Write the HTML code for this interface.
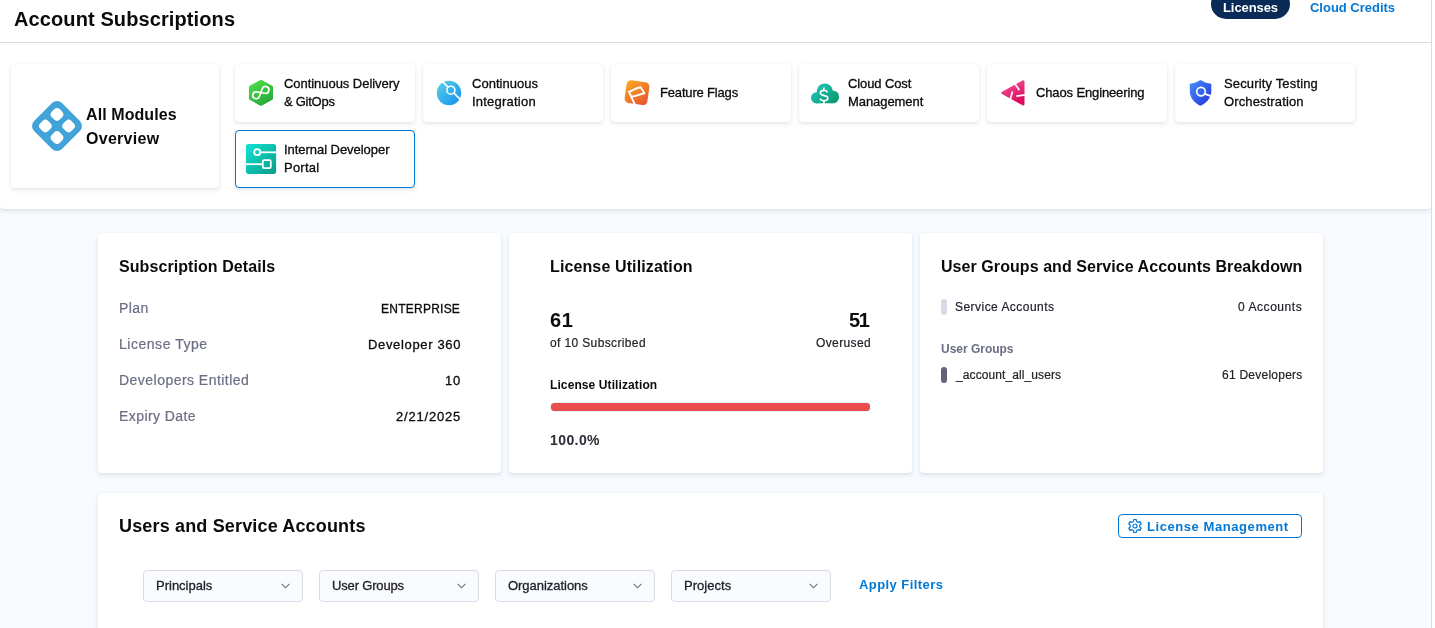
<!DOCTYPE html>
<html><head><meta charset="utf-8">
<style>
*{box-sizing:border-box;margin:0;padding:0}
html,body{width:1435px;height:628px;overflow:hidden}
body{background:#f7fbff;font-family:"Liberation Sans",sans-serif;position:relative;color:#22222a}
.t{position:absolute;white-space:nowrap;will-change:transform}
.a{position:absolute}
#top{position:absolute;left:0;top:0;width:1431px;height:209px;background:#fff;border-radius:0 0 4px 4px;box-shadow:0 0 1px rgba(40,41,61,.08),0 2px 4px rgba(96,97,112,.16)}
#vline{position:absolute;left:1431px;top:0;width:1px;height:628px;background:#d9dae5}
#rstrip{position:absolute;left:1432px;top:0;width:3px;height:628px;background:#fff}
#hline{position:absolute;left:0;top:42px;width:1431px;height:1px;background:#d9dae5}
.mc{position:absolute;width:180px;height:58px;background:#fff;border-radius:4px;box-shadow:0 0 1px rgba(40,41,61,.08),0 2px 4px rgba(96,97,112,.16)}
.mc.sel{border:1px solid #0278d5}
.card{position:absolute;background:#fff;border-radius:4px;box-shadow:0 0 1px rgba(40,41,61,.08),0 2px 4px rgba(96,97,112,.16)}
.dd{position:absolute;top:570px;width:160px;height:32px;border:1px solid #d9dae5;border-radius:4px;background:#f9fbff}
.dd svg{position:absolute;left:137.2px;top:12px}
.pill{position:absolute;width:6px;border-radius:3px}
</style></head><body>
<div id="top"></div>
<div id="hline"></div>
<div id="vline"></div>
<div id="rstrip"></div>

<div class="a" style="left:1211px;top:-11px;width:79px;height:30px;border-radius:15px;background:#0a2b57"></div>

<!-- all modules card -->
<div class="card" style="left:11px;top:64px;width:208px;height:124px"></div>
<svg class="a" style="left:30.9px;top:99.8px" width="52" height="52" viewBox="-26 -26 52 52">
  <g transform="rotate(45)" fill="#42a3d8" fill-rule="evenodd"><path d="M-12.70,-19.70 H12.70 A7,7 0 0 1 19.70,-12.70 V12.70 A7,7 0 0 1 12.70,19.70 H-12.70 A7,7 0 0 1 -19.70,12.70 V-12.70 A7,7 0 0 1 -12.70,-19.70 Z M-9.80,-13.80 H-6.60 A4,4 0 0 1 -2.60,-9.80 V-6.60 A4,4 0 0 1 -6.60,-2.60 H-9.80 A4,4 0 0 1 -13.80,-6.60 V-9.80 A4,4 0 0 1 -9.80,-13.80 Z M6.60,-13.80 H9.80 A4,4 0 0 1 13.80,-9.80 V-6.60 A4,4 0 0 1 9.80,-2.60 H6.60 A4,4 0 0 1 2.60,-6.60 V-9.80 A4,4 0 0 1 6.60,-13.80 Z M-9.80,2.60 H-6.60 A4,4 0 0 1 -2.60,6.60 V9.80 A4,4 0 0 1 -6.60,13.80 H-9.80 A4,4 0 0 1 -13.80,9.80 V6.60 A4,4 0 0 1 -9.80,2.60 Z M6.60,2.60 H9.80 A4,4 0 0 1 13.80,6.60 V9.80 A4,4 0 0 1 9.80,13.80 H6.60 A4,4 0 0 1 2.60,9.80 V6.60 A4,4 0 0 1 6.60,2.60 Z"/></g>
</svg>

<!-- module cards -->
<div class="mc" style="left:235px;top:64px"></div>
<div class="mc" style="left:423px;top:64px"></div>
<div class="mc" style="left:611px;top:64px"></div>
<div class="mc" style="left:799px;top:64px"></div>
<div class="mc" style="left:987px;top:64px"></div>
<div class="mc" style="left:1175px;top:64px"></div>
<div class="mc sel" style="left:235px;top:130px"></div>

<!-- module icons (page coords) -->
<svg class="a" style="left:0;top:0" width="1435" height="210" viewBox="0 0 1435 210">
  <defs>
    <linearGradient id="gcd" x1="0" y1="0" x2="0.6" y2="1"><stop offset="0" stop-color="#4fdf4a"/><stop offset="1" stop-color="#29ad3a"/></linearGradient>
    <linearGradient id="gci" x1="0" y1="0" x2="1" y2="1"><stop offset="0" stop-color="#5bd3e6"/><stop offset="1" stop-color="#0f8fee"/></linearGradient>
    <linearGradient id="gff" x1="0" y1="0" x2="1" y2="1"><stop offset="0" stop-color="#fbab22"/><stop offset="1" stop-color="#e84f2f"/></linearGradient>
    <linearGradient id="gcc2" gradientUnits="userSpaceOnUse" x1="815" y1="84" x2="834" y2="104"><stop offset="0" stop-color="#1ec4bb"/><stop offset="1" stop-color="#0b9a6e"/></linearGradient>
    <linearGradient id="gch" x1="0" y1="0" x2="0.5" y2="1"><stop offset="0" stop-color="#f4579a"/><stop offset="1" stop-color="#de0b5c"/></linearGradient>
    <linearGradient id="gst" x1="0" y1="0" x2="1" y2="1"><stop offset="0" stop-color="#4a90f6"/><stop offset="1" stop-color="#2130e0"/></linearGradient>
    <linearGradient id="gidp" x1="0" y1="0" x2="1" y2="1"><stop offset="0" stop-color="#12e3d3"/><stop offset="1" stop-color="#089c88"/></linearGradient>
  </defs>
  <!-- CD hexagon -->
  <g transform="translate(261,92.8)">
    <polygon points="0,-11.6 10.6,-5.8 10.6,5.8 0,11.6 -10.6,5.8 -10.6,-5.8" fill="url(#gcd)" stroke="url(#gcd)" stroke-width="2.8" stroke-linejoin="round"/>
    <g transform="translate(-0.2,-0.2) rotate(-30)" fill="none" stroke="#fff" stroke-width="1.7">
      <path d="M3.19,-2.62 A3.4,3.4 0 1 1 3.19,2.62 L-3.19,-2.62 A3.4,3.4 0 1 0 -3.19,2.62 Z"/>
    </g>
  </g>
  <!-- CI -->
  <circle cx="449" cy="93" r="12.2" fill="url(#gci)"/>
  <line x1="440" y1="79.2" x2="462.5" y2="101.7" stroke="#fff" stroke-width="1.7"/>
  <circle cx="450.9" cy="90.2" r="4.0" fill="#33b4ea" stroke="#fff" stroke-width="1.6"/>
  <!-- FF -->
  <g transform="translate(637,92.7) rotate(8)">
    <rect x="-11.5" y="-11.5" width="23" height="23" rx="4.5" fill="url(#gff)"/>
  </g>
  <g fill="none" stroke="#fff" stroke-width="1.7" stroke-linejoin="round" stroke-linecap="round">
    <path stroke-width="1.9" d="M635.6,106 L628.9,91.7 C632.5,90.6 636.5,87.6 640.6,87.2 L644.5,93.3 C640.6,93.6 636.8,96.2 632.6,96.4"/>
  </g>
  <!-- CCM cloud -->
  <g fill="url(#gcc2)">
    <circle cx="816.6" cy="97.8" r="5.6"/>
    <circle cx="824.8" cy="91.6" r="8.1"/>
    <circle cx="832.7" cy="96.9" r="6.4"/>
    <rect x="816.6" y="94" width="16.1" height="9.3"/>
  </g>
  <g fill="none" stroke="#fff" stroke-width="1.6" stroke-linecap="butt">
    <path d="M827.6,92.4 C827,90.9 825.6,90.4 823.9,90.4 C821.6,90.4 820.3,91.5 820.3,93.1 C820.3,96.6 827.9,94.7 827.9,98.1 C827.9,99.7 826.3,100.7 823.9,100.7 C821.9,100.7 820.6,100 819.9,98.6"/>
    <path d="M823.9,87.4 V90.4 M823.9,100.7 V104.5"/>
  </g>
  <!-- Chaos -->
  <polygon points="1002.6,92.8 1023.2,81.6 1023.2,104.2" fill="url(#gch)" stroke="url(#gch)" stroke-width="2.6" stroke-linejoin="round"/>
  <g stroke="#fff" stroke-width="1.7" stroke-linecap="butt">
    <line x1="1012.5" y1="80.2" x2="1019.4" y2="90.2"/>
    <line x1="1016.3" y1="96.1" x2="1027" y2="94.6"/>
    <line x1="1012.5" y1="91.4" x2="1009.8" y2="101"/>
  </g>
  <!-- STO shield -->
  <path d="M1200.5,80 C1203.5,82 1207,83.3 1211.3,83.8 V91 C1211.3,98 1206.5,103 1200.5,105.8 C1194.5,103 1189.8,98 1189.8,91 V83.8 C1194,83.3 1197.5,82 1200.5,80 Z" fill="url(#gst)"/>
  <line x1="1204" y1="93.6" x2="1212.5" y2="96.6" stroke="#fff" stroke-width="1.8"/>
  <circle cx="1201" cy="91.6" r="4.3" fill="#3566ee" stroke="#fff" stroke-width="1.7"/>
  <!-- IDP -->
  <rect x="245.9" y="143.9" width="30.2" height="30" rx="2.6" fill="url(#gidp)"/>
  <g fill="none" stroke="#fff" stroke-width="1.8">
    <circle cx="257.2" cy="152.2" r="3.0"/>
    <line x1="260.2" y1="152.3" x2="276.1" y2="152.3"/>
    <rect x="262.8" y="160.2" width="8" height="8" rx="1.4"/>
    <line x1="245.9" y1="164.2" x2="262.8" y2="164.2"/>
  </g>
</svg>

<!-- stat cards -->
<div class="card" style="left:98px;top:233px;width:403px;height:240px"></div>
<div class="card" style="left:509px;top:233px;width:403px;height:240px"></div>
<div class="card" style="left:920px;top:233px;width:403px;height:240px"></div>
<div class="card" style="left:98px;top:493px;width:1225px;height:200px"></div>

<!-- progress bar -->
<div class="a" style="left:551px;top:403px;width:319px;height:8px;border-radius:3.5px;background:#eb4d4f;box-shadow:0 0 1px 0.5px #d6e6f6"></div>

<!-- pills -->
<div class="pill" style="left:941px;top:299.2px;height:15.6px;background:#d9dae5"></div>
<div class="pill" style="left:941px;top:367px;height:16px;background:#62647c"></div>

<!-- license management button -->
<div class="a" style="left:1118px;top:514px;width:184px;height:24px;border:1px solid #0278d5;border-radius:4px"></div>
<svg class="a" style="left:1127px;top:518px" width="16" height="16" viewBox="0 0 16 16">
  <g fill="none" stroke="#0278d5" stroke-width="1.2" stroke-linejoin="round">
    <path d="M6.57,3.31 L6.74,1.52 L9.26,1.52 L9.43,3.31 L11.34,4.42 L12.98,3.67 L14.24,5.85 L12.77,6.90 L12.77,9.10 L14.24,10.15 L12.98,12.33 L11.34,11.58 L9.43,12.69 L9.26,14.48 L6.74,14.48 L6.57,12.69 L4.66,11.58 L3.02,12.33 L1.76,10.15 L3.23,9.10 L3.23,6.90 L1.76,5.85 L3.02,3.67 L4.66,4.42 Z"/>
    <circle cx="8" cy="8" r="2.0"/>
  </g>
</svg>

<!-- dropdowns -->
<div class="dd" style="left:143px"><svg width="9" height="6" viewBox="0 0 9 6"><path d="M0.6,0.8 L4.5,4.8 L8.4,0.8" fill="none" stroke="#6b6d85" stroke-width="1.1"/></svg></div>
<div class="dd" style="left:319px"><svg width="9" height="6" viewBox="0 0 9 6"><path d="M0.6,0.8 L4.5,4.8 L8.4,0.8" fill="none" stroke="#6b6d85" stroke-width="1.1"/></svg></div>
<div class="dd" style="left:495px"><svg width="9" height="6" viewBox="0 0 9 6"><path d="M0.6,0.8 L4.5,4.8 L8.4,0.8" fill="none" stroke="#6b6d85" stroke-width="1.1"/></svg></div>
<div class="dd" style="left:671px"><svg width="9" height="6" viewBox="0 0 9 6"><path d="M0.6,0.8 L4.5,4.8 L8.4,0.8" fill="none" stroke="#6b6d85" stroke-width="1.1"/></svg></div>

<div class="t" style="left:13.80px;top:9.00px;font-size:20px;line-height:20px;color:#0b0b0d;font-weight:bold;letter-spacing:0.106px;">Account Subscriptions</div>
<div class="t" style="left:1222.83px;top:1.00px;font-size:13px;line-height:13px;color:#fff;font-weight:bold;letter-spacing:-0.079px;">Licenses</div>
<div class="t" style="left:1309.97px;top:1.00px;font-size:13px;line-height:13px;color:#0278d5;font-weight:bold;letter-spacing:-0.015px;">Cloud Credits</div>
<div class="t" style="left:86.00px;top:107.00px;font-size:16px;line-height:16px;color:#0b0b0d;font-weight:bold;letter-spacing:0.087px;">All Modules</div>
<div class="t" style="left:85.75px;top:131.00px;font-size:16px;line-height:16px;color:#0b0b0d;font-weight:bold;letter-spacing:0.282px;">Overview</div>
<div class="t" style="left:284.05px;top:77.00px;font-size:13px;line-height:13px;color:#0b0b0d;letter-spacing:-0.047px;-webkit-text-stroke:0.3px currentColor;">Continuous Delivery</div>
<div class="t" style="left:284.25px;top:95.00px;font-size:13px;line-height:13px;color:#0b0b0d;letter-spacing:-0.257px;-webkit-text-stroke:0.3px currentColor;">&amp; GitOps</div>
<div class="t" style="left:472.05px;top:77.00px;font-size:13px;line-height:13px;color:#0b0b0d;letter-spacing:0.017px;-webkit-text-stroke:0.3px currentColor;">Continuous</div>
<div class="t" style="left:471.50px;top:95.00px;font-size:13px;line-height:13px;color:#0b0b0d;letter-spacing:0.223px;-webkit-text-stroke:0.3px currentColor;">Integration</div>
<div class="t" style="left:659.62px;top:86.00px;font-size:13px;line-height:13px;color:#0b0b0d;letter-spacing:-0.171px;-webkit-text-stroke:0.3px currentColor;">Feature Flags</div>
<div class="t" style="left:848.05px;top:77.00px;font-size:13px;line-height:13px;color:#0b0b0d;letter-spacing:-0.108px;-webkit-text-stroke:0.3px currentColor;">Cloud Cost</div>
<div class="t" style="left:847.62px;top:95.00px;font-size:13px;line-height:13px;color:#0b0b0d;letter-spacing:-0.069px;-webkit-text-stroke:0.3px currentColor;">Management</div>
<div class="t" style="left:1036.05px;top:86.00px;font-size:13px;line-height:13px;color:#0b0b0d;letter-spacing:-0.131px;-webkit-text-stroke:0.3px currentColor;">Chaos Engineering</div>
<div class="t" style="left:1224.10px;top:77.00px;font-size:13px;line-height:13px;color:#0b0b0d;letter-spacing:0.153px;-webkit-text-stroke:0.3px currentColor;">Security Testing</div>
<div class="t" style="left:1224.08px;top:95.00px;font-size:13px;line-height:13px;color:#0b0b0d;letter-spacing:0.121px;-webkit-text-stroke:0.3px currentColor;">Orchestration</div>
<div class="t" style="left:283.50px;top:143.00px;font-size:13px;line-height:13px;color:#0b0b0d;letter-spacing:-0.043px;-webkit-text-stroke:0.3px currentColor;">Internal Developer</div>
<div class="t" style="left:283.62px;top:161.00px;font-size:13px;line-height:13px;color:#0b0b0d;letter-spacing:0.235px;-webkit-text-stroke:0.3px currentColor;">Portal</div>
<div class="t" style="left:118.93px;top:259.00px;font-size:16px;line-height:16px;color:#0b0b0d;font-weight:bold;letter-spacing:0.075px;">Subscription Details</div>
<div class="t" style="left:118.55px;top:301.00px;font-size:14px;line-height:14px;color:#6b6d85;letter-spacing:0.450px;-webkit-text-stroke:0.2px currentColor;">Plan</div>
<div class="t" style="left:118.55px;top:337.00px;font-size:14px;line-height:14px;color:#6b6d85;letter-spacing:0.530px;-webkit-text-stroke:0.2px currentColor;">License Type</div>
<div class="t" style="left:118.55px;top:373.00px;font-size:14px;line-height:14px;color:#6b6d85;letter-spacing:0.469px;-webkit-text-stroke:0.2px currentColor;">Developers Entitled</div>
<div class="t" style="left:118.55px;top:409.00px;font-size:14px;line-height:14px;color:#6b6d85;letter-spacing:0.420px;-webkit-text-stroke:0.2px currentColor;">Expiry Date</div>
<div class="t" style="left:381.12px;top:303.00px;font-size:12px;line-height:12px;color:#0b0b0d;letter-spacing:0.244px;-webkit-text-stroke:0.3px currentColor;">ENTERPRISE</div>
<div class="t" style="left:367.53px;top:338.00px;font-size:13px;line-height:13px;color:#0b0b0d;letter-spacing:0.660px;-webkit-text-stroke:0.3px currentColor;">Developer 360</div>
<div class="t" style="left:444.90px;top:374.00px;font-size:13px;line-height:13px;color:#0b0b0d;letter-spacing:0.650px;-webkit-text-stroke:0.3px currentColor;">10</div>
<div class="t" style="left:395.85px;top:410.00px;font-size:13px;line-height:13px;color:#0b0b0d;letter-spacing:0.797px;-webkit-text-stroke:0.3px currentColor;">2/21/2025</div>
<div class="t" style="left:550.42px;top:259.00px;font-size:16px;line-height:16px;color:#0b0b0d;font-weight:bold;letter-spacing:0.117px;">License Utilization</div>
<div class="t" style="left:549.98px;top:310.00px;font-size:20px;line-height:20px;color:#0b0b0d;font-weight:bold;letter-spacing:0.525px;">61</div>
<div class="t" style="left:849.17px;top:310.00px;font-size:20px;line-height:20px;color:#0b0b0d;font-weight:bold;letter-spacing:-1.375px;">51</div>
<div class="t" style="left:550.00px;top:337.00px;font-size:12px;line-height:12px;color:#22222a;letter-spacing:0.368px;-webkit-text-stroke:0.2px currentColor;">of 10 Subscribed</div>
<div class="t" style="left:816.23px;top:337.00px;font-size:12px;line-height:12px;color:#22222a;letter-spacing:0.375px;-webkit-text-stroke:0.2px currentColor;">Overused</div>
<div class="t" style="left:549.80px;top:379.00px;font-size:12px;line-height:12px;color:#0b0b0d;font-weight:bold;letter-spacing:0.100px;">License Utilization</div>
<div class="t" style="left:549.73px;top:433.00px;font-size:14px;line-height:14px;color:#2b2c38;font-weight:bold;letter-spacing:0.415px;">100.0%</div>
<div class="t" style="left:940.55px;top:259.00px;font-size:16px;line-height:16px;color:#0b0b0d;font-weight:bold;letter-spacing:0.064px;">User Groups and Service Accounts Breakdown</div>
<div class="t" style="left:954.95px;top:301.00px;font-size:12px;line-height:12px;color:#22222a;letter-spacing:0.462px;-webkit-text-stroke:0.2px currentColor;">Service Accounts</div>
<div class="t" style="left:1238.13px;top:301.00px;font-size:12px;line-height:12px;color:#22222a;letter-spacing:0.556px;-webkit-text-stroke:0.2px currentColor;">0 Accounts</div>
<div class="t" style="left:940.77px;top:343.00px;font-size:12px;line-height:12px;color:#6b6d85;font-weight:bold;letter-spacing:-0.015px;">User Groups</div>
<div class="t" style="left:955.67px;top:369.00px;font-size:12px;line-height:12px;color:#22222a;letter-spacing:0.097px;-webkit-text-stroke:0.2px currentColor;">_account_all_users</div>
<div class="t" style="left:1221.50px;top:369.00px;font-size:12px;line-height:12px;color:#22222a;letter-spacing:0.246px;-webkit-text-stroke:0.2px currentColor;">61 Developers</div>
<div class="t" style="left:118.72px;top:517.00px;font-size:18px;line-height:18px;color:#0b0b0d;font-weight:bold;letter-spacing:0.159px;">Users and Service Accounts</div>
<div class="t" style="left:1147.12px;top:520.00px;font-size:13px;line-height:13px;color:#0278d5;font-weight:bold;letter-spacing:0.568px;">License Management</div>
<div class="t" style="left:155.62px;top:579.00px;font-size:13px;line-height:13px;color:#22222a;-webkit-text-stroke:0.3px currentColor;">Principals</div>
<div class="t" style="left:331.70px;top:579.00px;font-size:13px;line-height:13px;color:#22222a;letter-spacing:-0.163px;-webkit-text-stroke:0.3px currentColor;">User Groups</div>
<div class="t" style="left:508.07px;top:579.00px;font-size:13px;line-height:13px;color:#22222a;letter-spacing:-0.033px;-webkit-text-stroke:0.3px currentColor;">Organizations</div>
<div class="t" style="left:683.62px;top:579.00px;font-size:13px;line-height:13px;color:#22222a;letter-spacing:0.043px;-webkit-text-stroke:0.3px currentColor;">Projects</div>
<div class="t" style="left:858.88px;top:578.00px;font-size:13px;line-height:13px;color:#0278d5;font-weight:bold;letter-spacing:0.427px;">Apply Filters</div>
</body></html>
